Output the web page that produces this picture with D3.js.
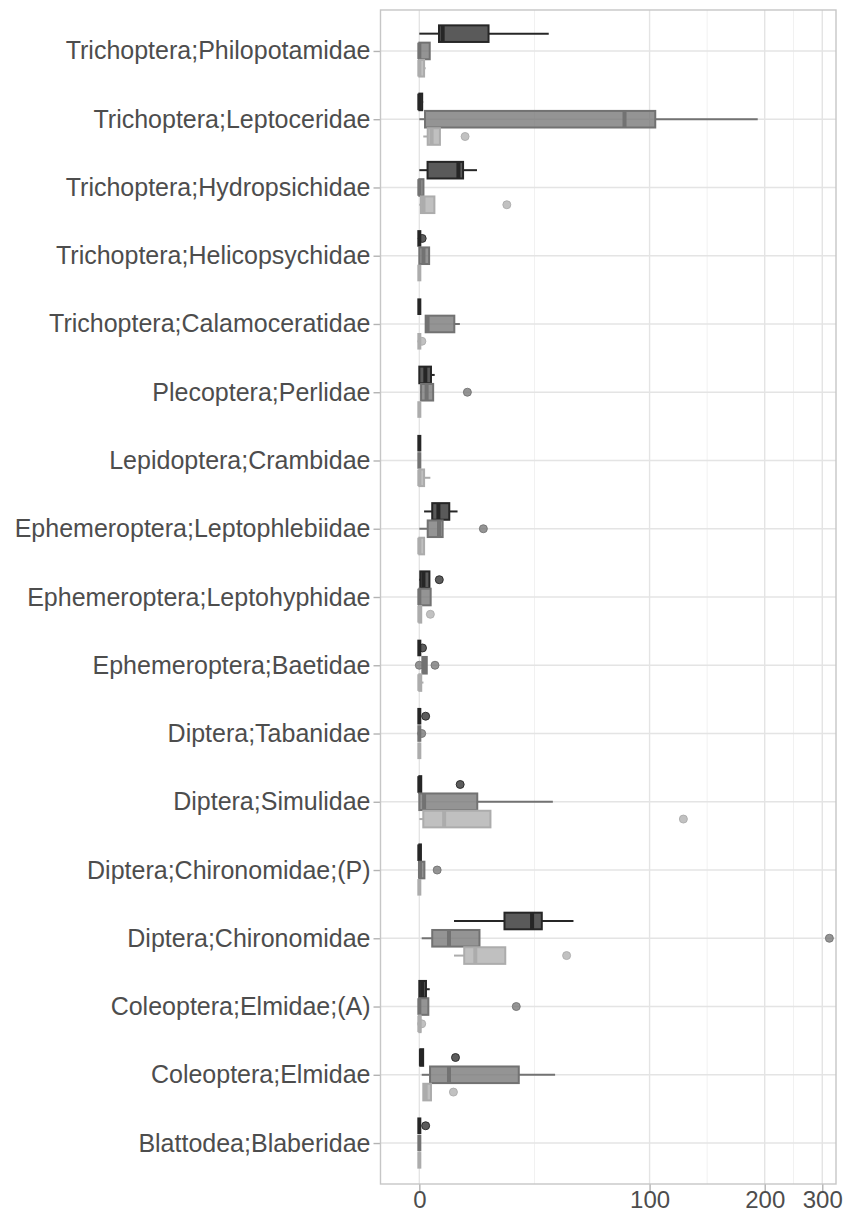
<!DOCTYPE html>
<html>
<head>
<meta charset="utf-8">
<script src="https://cdn.jsdelivr.net/npm/d3@7"></script>
<style>
body { margin: 0; background: #fff; }
text { font-family: "Liberation Sans", Arial, sans-serif; }
</style>
</head>
<body>
<svg id="chart" width="846" height="1213"></svg>
<script>
// categories, top to bottom
var categories = [
  "Trichoptera;Philopotamidae", "Trichoptera;Leptoceridae", "Trichoptera;Hydropsichidae",
  "Trichoptera;Helicopsychidae", "Trichoptera;Calamoceratidae", "Plecoptera;Perlidae",
  "Lepidoptera;Crambidae", "Ephemeroptera;Leptophlebiidae", "Ephemeroptera;Leptohyphidae",
  "Ephemeroptera;Baetidae", "Diptera;Tabanidae", "Diptera;Simulidae",
  "Diptera;Chironomidae;(P)", "Diptera;Chironomidae", "Coleoptera;Elmidae;(A)",
  "Coleoptera;Elmidae", "Blattodea;Blaberidae"
];
var groups = ["g1", "g2", "g3"];

// box stats per category: [lower whisker, q1, median, q3, upper whisker]
var statsG1 = [
  [0, 6.3, 7.5, 23.5, 47.6], [0, 0, 0, 0.9, 1.2], [0, 2.6, 12.8, 14.4, 19.3],
  [0, 0, 0, 0, 0], [0, 0, 0, 0, 0], [0, 0, 1.9, 3.7, 4.9],
  [0, 0, 0, 0, 0], [1.5, 4.1, 6.1, 9.7, 12.5], [0, 0.3, 1.3, 3.2, 3.2],
  [0, 0, 0, 0, 0], [0, 0, 0, 0, 0], [0, 0, 0, 0.6, 0.6],
  [0, 0, 0, 0.5, 0.5], [11.3, 29.5, 40.5, 44.6, 58.8], [0, 0, 0.9, 2.1, 3.3],
  [0.3, 0.3, 0.5, 1.2, 1.2], [0, 0, 0, 0, 0]
];
var statsG2 = [
  [0, 0, 0, 3.3, 3.3], [0, 1.8, 85.1, 103.6, 191.5], [0, 0, 0, 1.3, 1.3],
  [0, 0, 1.3, 3.1, 3.3], [2.0, 2.0, 2.6, 11.4, 13.3], [0.2, 0.55, 2.3, 4.4, 4.4],
  [0, 0, 0, 0, 0], [0, 2.65, 6.3, 7.5, 7.5], [0, 0, 0, 3.6, 3.6],
  [0.95, 0.95, 1.6, 2.35, 2.35], [0, 0, 0, 0, 0], [0, 0, 1.5, 19.4, 49.4],
  [0, 0, 0.2, 1.6, 1.6], [0.75, 4.1, 9.6, 20.2, 20.2], [0, 0, 0, 2.85, 2.85],
  [0.75, 3.4, 9.6, 35.1, 50.4], [0, 0, 0, 0, 0]
];
var statsG3 = [
  [0, 0, 0, 1.5, 2.0], [1.25, 2.65, 3.9, 6.6, 6.6], [0, 0.5, 1.3, 4.8, 4.8],
  [0, 0, 0, 0, 0], [0, 0, 0, 0, 0], [0, 0, 0, 0, 0],
  [0, 0, 0, 1.5, 3.5], [0, 0, 0, 1.5, 1.5], [0, 0, 0, 0.6, 0.6],
  [0, 0, 0, 0.6, 1.3], [0, 0, 0, 0, 0], [0, 1.25, 8.0, 24.2, 24.2],
  [0, 0, 0, 0, 0], [11.3, 14.8, 18.7, 29.8, 29.8], [0, 0, 0, 0.4, 0.4],
  [1.25, 1.25, 2.0, 3.7, 3.7], [0, 0, 0, 0, 0]
];

// outliers: [category index, value]
var outliersG1 = [[3, 0.9], [8, 6.4], [9, 1.0], [10, 2.0], [11, 13.4], [15, 11.8], [16, 2.0]];
var outliersG2 = [[5, 15.9], [7, 21.6], [9, 0], [9, 5.0], [10, 0.75], [12, 5.7], [13, 319], [14, 34.1]];
var outliersG3 = [[1, 15.1], [2, 30.4], [4, 0.8], [8, 3.5], [11, 122.9], [13, 55.6], [14, 0.75], [15, 11.1]];

var tickValues = [0, 100, 200, 300];
var tickLabels = ["0", "100", "200", "300"];

var colors = { g1: "#262626", g2: "#727272", g3: "#acacac" };

var svg = d3.select("#chart"),
  margin = {top: 10, right: 10, bottom: 29, left: 380.5},
  width = +svg.attr("width") - margin.left - margin.right,
  height = +svg.attr("height") - margin.top - margin.bottom;

var g = svg.append("g")
  .attr("transform", "translate(" + margin.left + "," + margin.top + ")");

// exponential-saturation transform of the x axis
var expo = function(v) { return 1 - Math.pow(2, -v / 100); };
var xt = d3.scaleLinear().domain([-0.0843, 0.9048]).range([0, width]);
var x = function(v) { return xt(expo(v)); };

var y = d3.scalePoint().domain(categories).range([0, height]).padding(0.6);
var step = y.step();
var dodge = d3.scaleBand().domain(groups)
  .range([-0.375 * step, 0.375 * step]).paddingInner(0.04);
var bh = dodge.bandwidth();

// grid lines
var minor = [0.25, 0.625, 0.8125];
g.selectAll(".minor").data(minor).enter().append("line")
  .attr("x1", function(d) { return xt(d); }).attr("x2", function(d) { return xt(d); })
  .attr("y1", 0).attr("y2", height)
  .style("stroke", "#f1f1f1").style("stroke-width", 1);
g.selectAll(".vmajor").data(tickValues).enter().append("line")
  .attr("x1", function(d) { return x(d); }).attr("x2", function(d) { return x(d); })
  .attr("y1", 0).attr("y2", height)
  .style("stroke", "#e4e4e4").style("stroke-width", 1.4);
g.selectAll(".hmajor").data(categories).enter().append("line")
  .attr("x1", 0).attr("x2", width)
  .attr("y1", function(d) { return y(d); }).attr("y2", function(d) { return y(d); })
  .style("stroke", "#e4e4e4").style("stroke-width", 1.4);

// axes
var xAxis = g.append("g")
  .attr("transform", "translate(0," + height + ")")
  .call(d3.axisBottom(xt)
    .tickValues(tickValues.map(expo))
    .tickFormat(function(d, i) { return tickLabels[i]; })
    .tickSize(7).tickPadding(0));
var yAxis = g.append("g")
  .call(d3.axisLeft(y).tickSize(7).tickPadding(3));
[xAxis, yAxis].forEach(function(a) {
  a.select(".domain").remove();
  a.selectAll(".tick line").style("stroke", "#b3b3b3").style("stroke-width", 1.4);
  a.selectAll(".tick text").style("fill", "#4d4d4d").style("font-size", "25px")
    .style("font-family", "'Liberation Sans', Arial, sans-serif");
});
xAxis.selectAll(".tick text").style("font-size", "24px");

// boxes
function drawGroup(grp, stats, outliers) {
  var col = colors[grp];
  var layer = g.append("g");
  stats.forEach(function(s, i) {
    var cy = y(categories[i]) + dodge(grp) + bh / 2;
    layer.append("line")
      .attr("x1", x(s[0])).attr("x2", x(s[1])).attr("y1", cy).attr("y2", cy)
      .style("stroke", col).style("stroke-width", 2);
    layer.append("line")
      .attr("x1", x(s[3])).attr("x2", x(s[4])).attr("y1", cy).attr("y2", cy)
      .style("stroke", col).style("stroke-width", 2);
    layer.append("rect")
      .attr("x", x(s[1])).attr("width", x(s[3]) - x(s[1]))
      .attr("y", cy - bh / 2).attr("height", bh)
      .style("fill", col).style("fill-opacity", 0.76)
      .style("stroke", col).style("stroke-width", 2);
    layer.append("line")
      .attr("x1", x(s[2])).attr("x2", x(s[2]))
      .attr("y1", cy - bh / 2).attr("y2", cy + bh / 2)
      .style("stroke", col).style("stroke-width", 4);
  });
  layer.selectAll("circle").data(outliers).enter().append("circle")
    .attr("cx", function(d) { return x(d[1]); })
    .attr("cy", function(d) { return y(categories[d[0]]) + dodge(grp) + bh / 2; })
    .attr("r", 4)
    .style("fill", col).style("fill-opacity", 0.75)
    .style("stroke", col).style("stroke-opacity", 0.9).style("stroke-width", 1);
}
drawGroup("g1", statsG1, outliersG1);
drawGroup("g2", statsG2, outliersG2);
drawGroup("g3", statsG3, outliersG3);

// panel border
g.append("rect")
  .attr("x", 0).attr("y", 0).attr("width", width).attr("height", height)
  .style("fill", "none").style("stroke", "#c6c6c6").style("stroke-width", 1.4);
</script>
</body>
</html>
